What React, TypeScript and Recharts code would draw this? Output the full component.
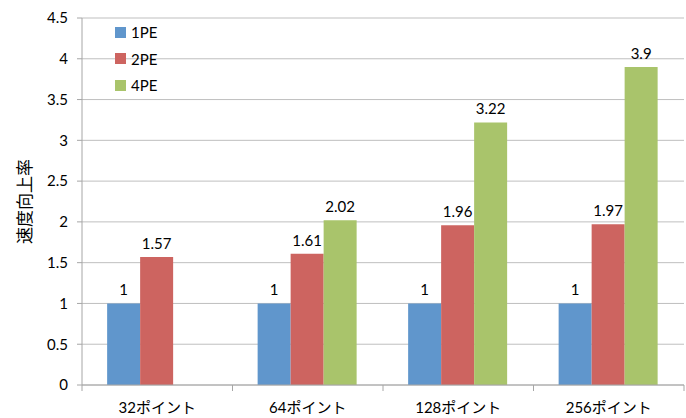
import { BarChart, Bar, XAxis, YAxis, CartesianGrid, LabelList } from "recharts";

const categories = ["32ポイント", "64ポイント", "128ポイント", "256ポイント"];
const pe1 = [1, 1, 1, 1];
const pe2 = [1.57, 1.61, 1.96, 1.97];
const pe4: (number | null)[] = [null, 2.02, 3.22, 3.9];
const yTicks = [0, 0.5, 1, 1.5, 2, 2.5, 3, 3.5, 4, 4.5];

const data = categories.map((name, i) => ({ name, pe1: pe1[i], pe2: pe2[i], pe4: pe4[i] }));

const series = [
  { key: "pe1", name: "1PE", color: "#6096cc" },
  { key: "pe2", name: "2PE", color: "#cd6460" },
  { key: "pe4", name: "4PE", color: "#a9c46b" },
];

const WIDTH = 686;
const HEIGHT = 418;
const MARGIN = { top: 18, right: 2, bottom: 2, left: 0 };
const Y_AXIS_W = 82;
const FONT = "Lato, 'Noto Sans CJK JP', sans-serif";

const bandWidth = (WIDTH - MARGIN.left - MARGIN.right - Y_AXIS_W) / categories.length;

function CategoryTick(props: any) {
  const { x, y, payload, index } = props;
  const left = x - bandWidth / 2;
  const right = x + bandWidth / 2;
  return (
    <g>
      <line x1={left} y1={y - 8} x2={left} y2={y - 2} stroke="#a6a6a6" />
      {index === categories.length - 1 && (
        <line x1={right} y1={y - 8} x2={right} y2={y - 2} stroke="#a6a6a6" />
      )}
      <text x={x} y={y + 20} textAnchor="middle" fontSize={15} fill="#000" fontFamily={FONT}>
        {payload.value}
      </text>
    </g>
  );
}

function LegendBox() {
  return (
    <div style={{ position: "absolute", left: 115, top: 19, fontFamily: FONT, fontSize: 15, color: "#000" }}>
      {series.map((s) => (
        <div key={s.key} style={{ display: "flex", alignItems: "center", height: 26.5 }}>
          <span style={{ width: 11, height: 11, background: s.color, marginRight: 5, display: "inline-block" }} />
          {s.name}
        </div>
      ))}
    </div>
  );
}

export default function App() {
  return (
    <div style={{ position: "absolute", left: 0, top: 0, width: WIDTH, height: HEIGHT, background: "#fff" }}>
      <BarChart width={WIDTH} height={HEIGHT} data={data} margin={MARGIN} barCategoryGap="16.7%" barGap={0}>
        <CartesianGrid vertical={false} stroke="#bfbfbf" />
        <XAxis
          dataKey="name"
          stroke="#a6a6a6"
          tickLine={false}
          height={31}
          interval={0}
          tick={<CategoryTick />}
        />
        <YAxis
          width={Y_AXIS_W}
          domain={[0, 4.5]}
          ticks={yTicks}
          stroke="#a6a6a6"
          tickSize={5}
          tickMargin={9}
          tick={{ fontSize: 15, fill: "#000", fontFamily: FONT }}
          label={{
            value: "速度向上率",
            angle: -90,
            position: "insideLeft",
            offset: 25,
            style: { fontSize: 17, fill: "#000", fontFamily: FONT, textAnchor: "middle" },
          }}
        />
        {series.map((s) => (
          <Bar key={s.key} dataKey={s.key} name={s.name} fill={s.color} isAnimationActive={false}>
            <LabelList dataKey={s.key} position="top" offset={8} fontSize={15} fill="#000" fontFamily={FONT} />
          </Bar>
        ))}
      </BarChart>
      <LegendBox />
    </div>
  );
}
